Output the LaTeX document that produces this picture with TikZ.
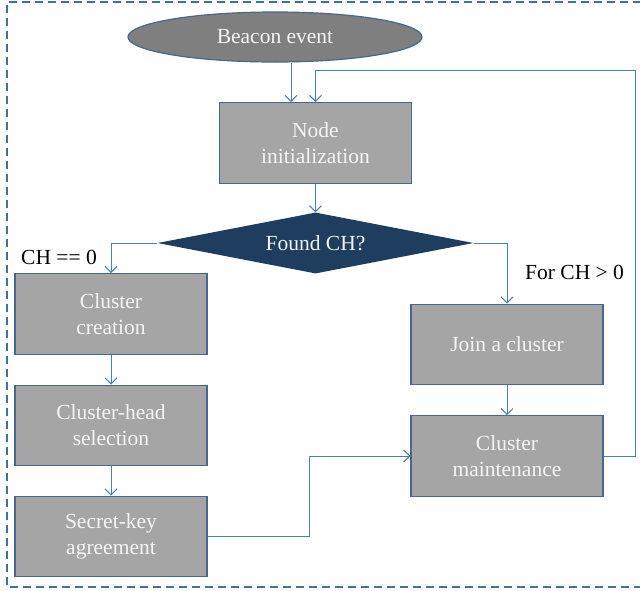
\documentclass[tikz,border=0pt]{standalone}
\usepackage{fontspec}
\setmainfont{Liberation Serif}
\usetikzlibrary{shapes.geometric,arrows.meta}
\definecolor{boxline}{HTML}{46688F}
\definecolor{arrowcol}{HTML}{4A7EBB}
\definecolor{framecol}{HTML}{41719C}
\definecolor{diafill}{HTML}{1F3D5E}
\definecolor{ellfill}{HTML}{7F7F7F}
\definecolor{boxfill}{HTML}{A5A5A5}
\definecolor{boxtext}{HTML}{F4F4F4}
\tikzset{
  procbox/.style={draw=boxline, line width=1.2pt, fill=boxfill, text=boxtext,
    minimum width=192pt, minimum height=80.5pt, inner sep=0pt, align=center,
    font=\fontsize{21.5}{26}\selectfont},
  arr/.style={draw=arrowcol, line width=1pt, -{Straight Barb[length=6pt,width=12pt]}},
  conn/.style={draw=arrowcol, line width=1pt},
  lbl/.style={font=\fontsize{21.5}{26}\selectfont, text=black, inner sep=0pt}
}
\begin{document}
\begin{tikzpicture}[x=1pt,y=-1pt]
\useasboundingbox (0,0) rectangle (640,590);
% dashed frame
\draw[framecol, line width=1.2pt, dash pattern=on 8pt off 5pt] (641,2) -- (7,2) -- (7,587) -- (641,587);

% nodes
\node[ellipse, draw=boxline, line width=1.2pt, fill=ellfill, text=boxtext,
      minimum width=294pt, minimum height=50pt, inner sep=0pt,
      font=\fontsize{21.5}{26}\selectfont] (ev) at (275,37) {Beacon event};
\node[procbox] (init) at (315.5,143) {Node\\initialization};
\node[diamond, aspect=5.2, fill=diafill, text=boxtext, minimum width=316pt, minimum height=61pt,
      inner sep=0pt, font=\fontsize{21.5}{26}\selectfont] (dia) at (315.5,243) {Found CH?};
\node[procbox] (create) at (111,314) {Cluster\\creation};
\node[procbox] (chsel) at (111,425.5) {Cluster-head\\selection};
\node[procbox] (skey) at (111,536.5) {Secret-key\\agreement};
\node[procbox] (join) at (507,344.5) {Join a cluster};
\node[procbox] (maint) at (507,456) {Cluster\\maintenance};

% labels
\node[lbl, anchor=base west] (l0) at (21,264) {CH == 0};
\node[lbl, anchor=base west] (l1) at (525,279) {For CH > 0};

% helper coordinates
\coordinate (fbk) at (635,70);
\coordinate (mid) at (309,456);

% connectors
\draw[arr] ([xshift=-24.5pt]init.north |- ev.south) -- ([xshift=-24.5pt]init.north);
\draw[arr] (maint.east) -| (fbk) -| (init.north);
\draw[arr] (init.south) -- (dia.north);
\draw[arr] (dia.west) -| (create.north);
\draw[arr] (dia.east) -| (join.north);
\draw[arr] (create.south) -- (chsel.north);
\draw[arr] (chsel.south) -- (skey.north);
\draw[arr] (join.south) -- (maint.north);
\draw[arr] (skey.east) -| (mid) -- (maint.west);
\end{tikzpicture}
\end{document}
